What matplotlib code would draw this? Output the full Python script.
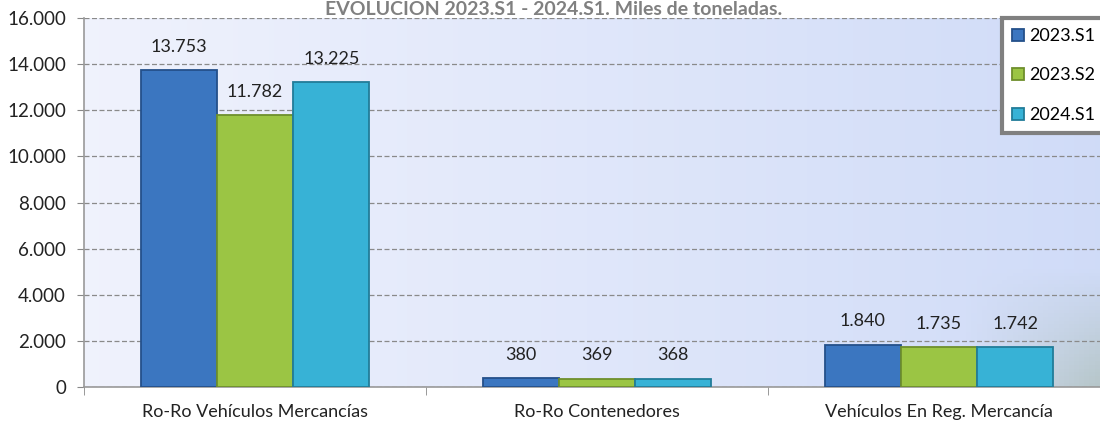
import matplotlib
matplotlib.use("Agg")
import matplotlib.pyplot as plt
import numpy as np
from matplotlib.ticker import FuncFormatter

categories = ["Ro-Ro Vehículos Mercancías", "Ro-Ro Contenedores", "Vehículos En Reg. Mercancía"]
series_names = ["2023.S1", "2023.S2", "2024.S1"]
values_2023_s1 = [13753, 380, 1840]
values_2023_s2 = [11782, 369, 1735]
values_2024_s1 = [13225, 368, 1742]
y_ticks = [0, 2000, 4000, 6000, 8000, 10000, 12000, 14000, 16000]
title = "EVOLUCIÓN 2023.S1 - 2024.S1. Miles de toneladas."

colors = ["#3B76C0", "#9BC544", "#37B2D6"]
edge_colors = ["#24508A", "#6E8F2C", "#217C99"]

plt.rcParams["font.family"] = ["Lato", "DejaVu Sans"]


def thousands(v, _pos=None):
    return f"{int(v):,}".replace(",", ".")


fig = plt.figure(figsize=(11, 4.26), dpi=100)
# plot area runs a little past the right edge of the image, as in the source
ax = fig.add_axes([0.0764, 0.0915, 0.9327, 0.866])

# soft background gradient of the plot area
gx, gy = np.meshgrid(np.linspace(0, 1, 200), np.linspace(0, 1, 100))
base = np.array([0.94, 0.95, 0.99])
right = np.array([0.80, 0.85, 0.97])
corner = np.array([0.62, 0.70, 0.62])
mix = gx[..., None] * 0.9
img = base * (1 - mix) + right * mix
w = np.clip((gx - 0.86) / 0.14, 0, 1) * np.clip((0.32 - gy) / 0.32, 0, 1)
img = img * (1 - w[..., None] * 0.55) + corner * (w[..., None] * 0.55)
ax.imshow(img, extent=[0, 1, 0, 1], transform=ax.transAxes, origin="lower",
          aspect="auto", zorder=0)

x = np.arange(len(categories))
bw = 0.223
all_series = [values_2023_s1, values_2023_s2, values_2024_s1]
for i, (name, vals) in enumerate(zip(series_names, all_series)):
    pos = x + (i - 1) * bw
    ax.bar(pos, vals, bw, color=colors[i], edgecolor=edge_colors[i],
           linewidth=1.3, label=name, zorder=3)
    for px, v in zip(pos, vals):
        ax.annotate(thousands(v), (px, v), xytext=(0, 11), textcoords="offset points",
                    ha="center", va="bottom", fontsize=13, color="#222222", zorder=4)

ax.set_xlim(-0.5, len(categories) - 0.5)
ax.set_ylim(0, 16000)
ax.set_yticks(y_ticks)
ax.yaxis.set_major_formatter(FuncFormatter(thousands))
ax.set_xticks(x)
ax.set_xticklabels(categories)
ax.set_xticks(np.arange(-0.5, len(categories)), minor=True)
ax.tick_params(axis="x", which="major", length=0, pad=12, labelsize=13, colors="#222222")
ax.tick_params(axis="x", which="minor", length=6, color="#888888", direction="out")
ax.tick_params(axis="y", length=5, color="#888888", labelsize=13.5, colors="#222222", pad=8)
ax.grid(axis="y", linestyle=(0, (4, 2)), color="#8a8a8a", linewidth=0.9, zorder=1)
ax.set_axisbelow(True)
for s in ["top", "right"]:
    ax.spines[s].set_visible(False)
ax.spines["left"].set_color("#999999")
ax.spines["bottom"].set_color("#999999")
ax.spines["left"].set_linewidth(1.2)
ax.spines["bottom"].set_linewidth(1.2)

fig.text(0.503, 1 - 15 / 426, title, ha="center", va="baseline", fontsize=14,
         fontweight="bold", color="#808080")

leg = ax.legend(loc="upper left", bbox_to_anchor=(1002 / 1100, 1 - 18 / 426),
                bbox_transform=fig.transFigure, frameon=True,
                fontsize=13, handlelength=0.65, handleheight=0.65, handletextpad=0.3,
                labelspacing=1.3, borderpad=0.55, fancybox=False, borderaxespad=0)
leg.get_frame().set_edgecolor("#808080")
leg.get_frame().set_linewidth(3)
leg.get_frame().set_facecolor("white")
leg.get_frame().set_alpha(1)
leg.set_zorder(5)

fig.savefig("out.png", dpi=100)
